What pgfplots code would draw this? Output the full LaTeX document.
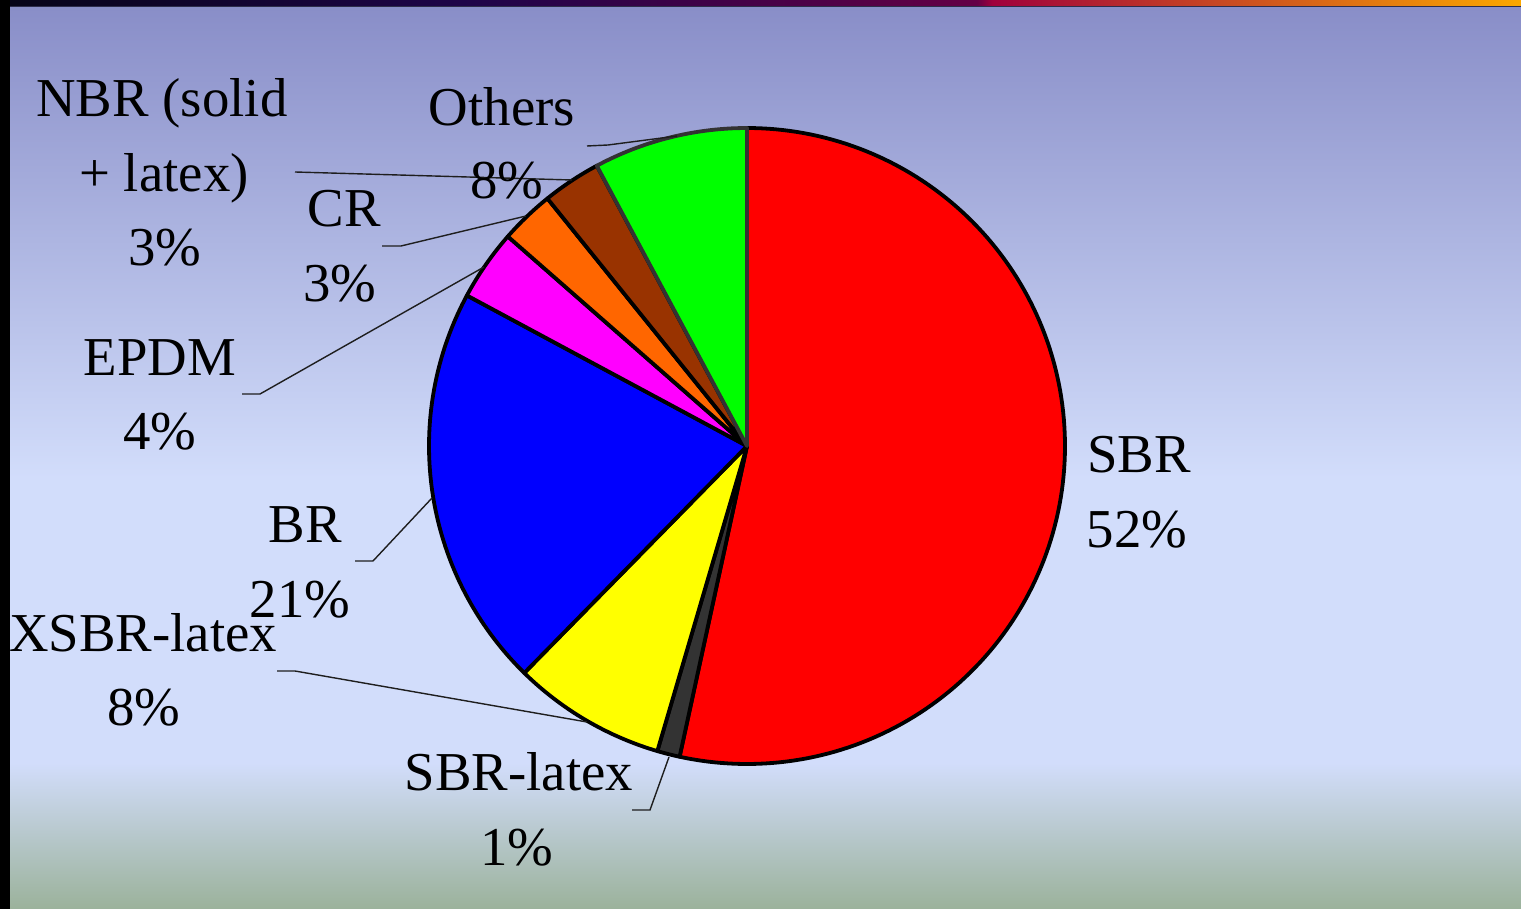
\documentclass[border=0pt]{standalone}
\usepackage{pgfplots}
\pgfplotsset{compat=1.18}
\usepackage{fontspec}
\setmainfont{Liberation Serif}
\definecolor{bgbot}{RGB}{155,178,155}
\definecolor{bgmid}{RGB}{210,221,251}
\definecolor{bgtop}{RGB}{137,142,200}
\definecolor{ts1}{RGB}{6,4,24}
\definecolor{ts2}{RGB}{30,4,72}
\definecolor{ts3}{RGB}{100,0,70}
\definecolor{ts4}{RGB}{160,0,60}
\definecolor{ts5}{RGB}{252,168,0}
\definecolor{stripline}{RGB}{45,45,75}
\definecolor{sbrred}{RGB}{255,0,0}
\definecolor{sbrlatex}{RGB}{51,51,51}
\definecolor{xsbr}{RGB}{255,255,0}
\definecolor{brblue}{RGB}{0,0,255}
\definecolor{epdm}{RGB}{255,0,255}
\definecolor{nbr}{RGB}{153,51,0}
\definecolor{crc}{RGB}{255,102,0}
\definecolor{others}{RGB}{0,255,0}
\definecolor{leader}{RGB}{30,30,30}
\pgfdeclareverticalshading{bgshade}{100bp}{color(0bp)=(bgbot); color(25bp)=(bgbot); color(33.1bp)=(bgmid); color(48.9bp)=(bgmid); color(75bp)=(bgtop); color(100bp)=(bgtop)}
\pgfdeclarehorizontalshading{topstrip}{100bp}{color(0bp)=(ts1); color(25bp)=(ts1); color(40bp)=(ts2); color(57bp)=(ts3); color(57.5bp)=(ts4); color(75bp)=(ts5); color(100bp)=(ts5)}
\newcommand{\lbl}{\fontsize{27.4}{37}\selectfont}
\begin{document}
\begin{tikzpicture}
% background (pixel coordinates, y downward)
\begin{scope}[x=0.5pt,y=-0.5pt,yshift=454.5pt]
  \fill[black] (0,0) rectangle (10,909);
  \shade[shading=topstrip] (10,0) rectangle (1521,6);
  \fill[stripline] (10,6) rectangle (1521,7.5);
  \shade[shading=bgshade] (10,7.5) rectangle (1521,909);
\end{scope}
\begin{axis}[
  x=0.5pt, y=0.5pt, y dir=reverse,
  xmin=0, xmax=1521, ymin=0, ymax=909,
  hide axis, scale only axis, clip=false, enlargelimits=false,
  anchor=origin, at={(0,454.5pt)},
  every axis plot/.append style={line join=round},
]
% slices: percentages clockwise from the top
% SBR 53.4, SBR-latex 1.15, XSBR-latex 7.8, BR 20.5, EPDM 3.6, CR 2.75, NBR 2.97, Others 7.83
\addplot[fill=sbrred, draw=black, line width=1.9pt, domain={3.6*0}:{3.6*53.4}, samples=150, variable=\t]
  ({747+318*sin(\t)},{446-318*cos(\t)}) -- (axis cs:747,446) -- cycle;
\addplot[fill=sbrlatex, draw=black, line width=1.9pt, domain={3.6*53.4}:{3.6*54.55}, samples=10, variable=\t]
  ({747+318*sin(\t)},{446-318*cos(\t)}) -- (axis cs:747,446) -- cycle;
\addplot[fill=xsbr, draw=black, line width=1.9pt, domain={3.6*54.55}:{3.6*62.35}, samples=40, variable=\t]
  ({747+318*sin(\t)},{446-318*cos(\t)}) -- (axis cs:747,446) -- cycle;
\addplot[fill=brblue, draw=black, line width=1.9pt, domain={3.6*62.35}:{3.6*82.85}, samples=80, variable=\t]
  ({747+318*sin(\t)},{446-318*cos(\t)}) -- (axis cs:747,446) -- cycle;
\addplot[fill=epdm, draw=black, line width=1.9pt, domain={3.6*82.85}:{3.6*86.45}, samples=20, variable=\t]
  ({747+318*sin(\t)},{446-318*cos(\t)}) -- (axis cs:747,446) -- cycle;
\addplot[fill=crc, draw=black, line width=1.9pt, domain={3.6*86.45}:{3.6*89.2}, samples=20, variable=\t]
  ({747+318*sin(\t)},{446-318*cos(\t)}) -- (axis cs:747,446) -- cycle;
\addplot[fill=nbr, draw=black, line width=1.9pt, domain={3.6*89.2}:{3.6*92.17}, samples=20, variable=\t]
  ({747+318*sin(\t)},{446-318*cos(\t)}) -- (axis cs:747,446) -- cycle;
\addplot[fill=others, draw=sbrlatex, line width=1.9pt, domain={3.6*92.17}:{3.6*100}, samples=40, variable=\t]
  ({747+318*sin(\t)},{446-318*cos(\t)}) -- (axis cs:747,446) -- cycle;
% leader lines
\draw[leader, line width=0.7pt] (axis cs:587,146) -- (axis cs:608,145) -- (axis cs:677,136);
\draw[leader, line width=0.7pt] (axis cs:295,172) -- (axis cs:572,180);
\draw[leader, line width=0.7pt] (axis cs:382,246) -- (axis cs:401,246) -- (axis cs:526,216);
\draw[leader, line width=0.7pt] (axis cs:242,394) -- (axis cs:260,394) -- (axis cs:484,267);
\draw[leader, line width=0.7pt] (axis cs:355,561) -- (axis cs:373,561) -- (axis cs:432,498);
\draw[leader, line width=0.7pt] (axis cs:277,671) -- (axis cs:295,671) -- (axis cs:587,722);
\draw[leader, line width=0.7pt] (axis cs:632,810) -- (axis cs:650,810) -- (axis cs:669,757);
% labels
\node[anchor=base, inner sep=0pt, font=\lbl] at (axis cs:1139,472) {SBR};
\node[anchor=base, inner sep=0pt, font=\lbl] at (axis cs:1137,547) {52\%};
\node[anchor=base, inner sep=0pt, font=\lbl] at (axis cs:519,790) {SBR-latex};
\node[anchor=base, inner sep=0pt, font=\lbl] at (axis cs:517,865) {1\%};
\node[anchor=base, inner sep=0pt, font=\lbl] at (axis cs:143,651) {XSBR-latex};
\node[anchor=base, inner sep=0pt, font=\lbl] at (axis cs:144,725) {8\%};
\node[anchor=base, inner sep=0pt, font=\lbl] at (axis cs:305,542) {BR};
\node[anchor=base, inner sep=0pt, font=\lbl] at (axis cs:300,617) {21\%};
\node[anchor=base, inner sep=0pt, font=\lbl] at (axis cs:160,375) {EPDM};
\node[anchor=base, inner sep=0pt, font=\lbl] at (axis cs:160,449) {4\%};
\node[anchor=base, inner sep=0pt, font=\lbl] at (axis cs:344,227) {CR};
\node[anchor=base, inner sep=0pt, font=\lbl] at (axis cs:340,301) {3\%};
\node[anchor=base, inner sep=0pt, font=\lbl] at (axis cs:162,117) {NBR (solid};
\node[anchor=base, inner sep=0pt, font=\lbl] at (axis cs:164,192) {+ latex)};
\node[anchor=base, inner sep=0pt, font=\lbl] at (axis cs:165,266) {3\%};
\node[anchor=base, inner sep=0pt, font=\lbl] at (axis cs:502,126) {Others};
\node[anchor=base, inner sep=0pt, font=\lbl] at (axis cs:507,199) {8\%};
\end{axis}
\end{tikzpicture}
\end{document}
